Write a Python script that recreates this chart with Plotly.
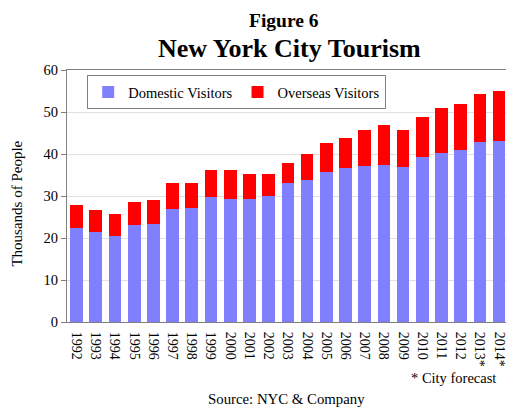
import plotly.graph_objects as go

years = ["1992", "1993", "1994", "1995", "1996", "1997", "1998", "1999", "2000", "2001",
         "2002", "2003", "2004", "2005", "2006", "2007", "2008", "2009", "2010", "2011",
         "2012", "2013*", "2014*"]
domestic = [22.3, 21.4, 20.4, 23.1, 23.4, 26.9, 27.1, 29.8, 29.4, 29.4,
            30.1, 33.0, 33.8, 35.8, 36.6, 37.2, 37.5, 36.9, 39.2, 40.3,
            41.0, 42.9, 43.1]
total = [27.8, 26.7, 25.8, 28.5, 29.1, 33.0, 33.1, 36.3, 36.2, 35.2,
         35.2, 37.8, 40.0, 42.6, 43.8, 45.8, 47.0, 45.6, 48.8, 50.9,
         52.0, 54.4, 55.1]
overseas = [round(t - d, 2) for t, d in zip(total, domestic)]

FONT = "Liberation Serif"

fig = go.Figure()
fig.add_trace(go.Bar(x=years, y=domestic, name="Domestic Visitors",
                     marker=dict(color="#8080FF", line=dict(width=0))))
fig.add_trace(go.Bar(x=years, y=overseas, name="Overseas Visitors",
                     marker=dict(color="#FF0000", line=dict(width=0))))

fig.update_layout(
    width=506, height=408,
    barmode="stack", bargap=0.34,
    margin=dict(l=67, r=0, t=70, b=86, autoexpand=False),
    paper_bgcolor="white", plot_bgcolor="white",
    font=dict(family=FONT, size=14, color="black"),
    showlegend=True,
    legend=dict(orientation="h", x=0.046, y=0.98, xanchor="left", yanchor="top",
                bordercolor="#808080", borderwidth=1, bgcolor="white",
                font=dict(family=FONT, size=14.5), itemwidth=30,
                tracegroupgap=0, traceorder="normal"),
    xaxis=dict(type="category", range=[-0.5, 22.36], tickangle=90, automargin=False,
               showline=True, linecolor="#808080", linewidth=1, mirror=True,
               ticks="", showgrid=False, ticklabelstandoff=6,
               tickfont=dict(family=FONT, size=14)),
    yaxis=dict(range=[0, 60], dtick=10, showline=True, linecolor="#808080", linewidth=1,
               automargin=False,
               ticks="outside", ticklen=5, tickcolor="#808080",
               showgrid=True, gridcolor="#e0e0e0", gridwidth=1,
               zeroline=False, tickfont=dict(family=FONT, size=14.5)),
    annotations=[
        dict(text="<b>Figure 6</b>", xref="paper", yref="paper", x=0.494, y=1.0,
             yshift=50, xanchor="center", yanchor="middle", showarrow=False,
             font=dict(family=FONT, size=19.5)),
        dict(text="<b>New York City Tourism</b>", xref="paper", yref="paper", x=0.506, y=1.0,
             yshift=22, xanchor="center", yanchor="middle", showarrow=False,
             font=dict(family=FONT, size=26)),
        dict(text="Thousands of People", xref="paper", yref="paper", x=0.0, y=0.47,
             xshift=-50, textangle=-90, xanchor="center", yanchor="middle",
             showarrow=False, font=dict(family=FONT, size=15)),
        dict(text="* City forecast", xref="paper", yref="paper", x=0.982, y=0.0,
             yshift=-56, xanchor="right", yanchor="middle", showarrow=False,
             font=dict(family=FONT, size=14.5)),
        dict(text="Source: NYC & Company", xref="paper", yref="paper", x=0.5, y=0.0,
             yshift=-77, xanchor="center", yanchor="middle", showarrow=False,
             font=dict(family=FONT, size=14.8)),
    ],
)

fig.write_html("out.html", config={"displayModeBar": False})
with open("out.html", encoding="utf-8") as f:
    html = f.read()
html = html.replace("<body>", '<body style="margin:0;padding:0;overflow:hidden">', 1)
with open("out.html", "w", encoding="utf-8") as f:
    f.write(html)
